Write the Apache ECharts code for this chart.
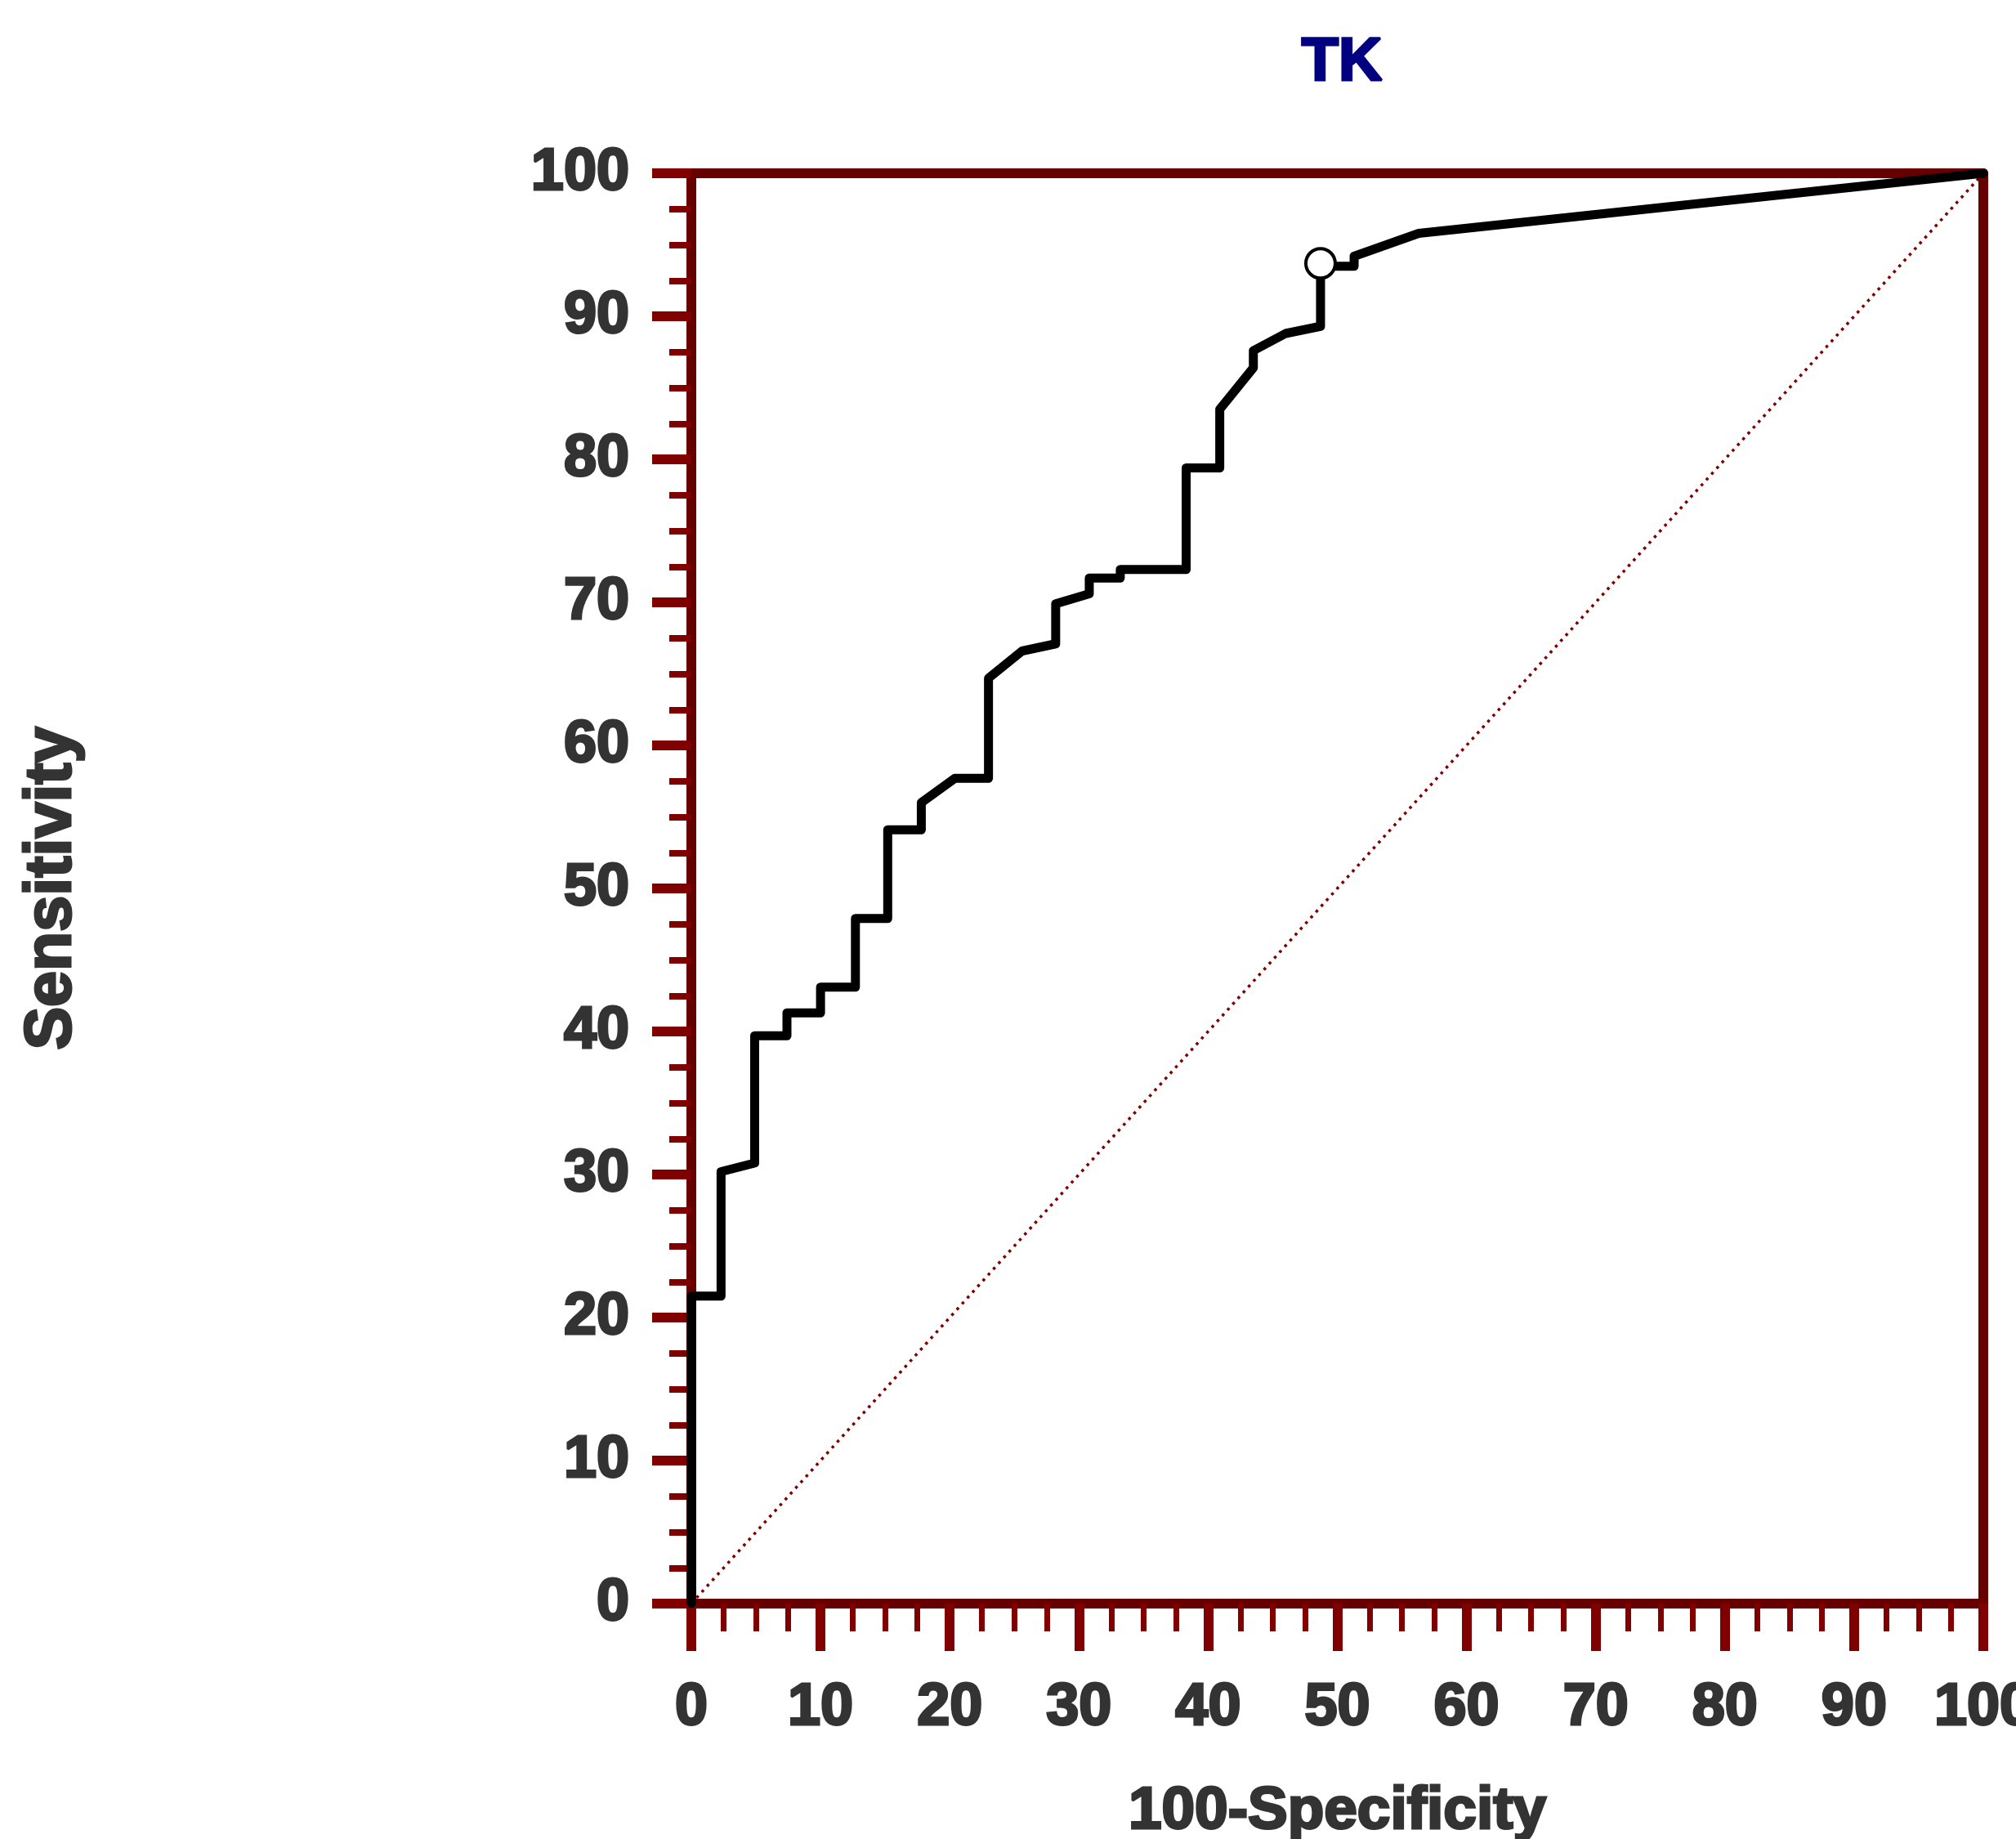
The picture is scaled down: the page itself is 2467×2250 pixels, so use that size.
<!DOCTYPE html>
<html>
<head>
<meta charset="utf-8">
<script src="https://cdn.jsdelivr.net/npm/echarts@6/dist/echarts.min.js"></script>
<style>
html,body{margin:0;padding:0;background:#fff;}
#chart{width:2467px;height:2250px;}
</style>
</head>
<body>
<div id="chart"></div>
<script>
// ROC curve: 100-Specificity (x) vs Sensitivity (y)
const rocX = [0, 0, 2.3, 2.3, 4.9, 4.9, 7.4, 7.4, 10.0, 10.0, 12.7, 12.7, 15.2, 15.2, 17.8, 17.8, 20.4, 23.0, 23.0, 25.6, 28.2, 28.2, 30.8, 30.8, 33.2, 33.2, 38.3, 38.3, 40.9, 40.9, 43.5, 43.5, 46.0, 48.7, 48.7, 51.3, 51.3, 56.3, 100];
const rocY = [0, 21.5, 21.5, 30.2, 30.8, 39.7, 39.7, 41.3, 41.3, 43.1, 43.1, 47.9, 47.9, 54.1, 54.1, 56.0, 57.7, 57.7, 64.7, 66.6, 67.1, 69.9, 70.6, 71.7, 71.7, 72.3, 72.3, 79.4, 79.4, 83.5, 86.4, 87.6, 88.8, 89.3, 93.5, 93.5, 94.2, 95.8, 100];
const criterionPoint = [48.7, 93.7];
const refLineX = [0, 100];
const refLineY = [0, 100];
const titleText = 'TK';
const xAxisName = '100-Specificity';
const yAxisName = 'Sensitivity';

const FONT = '"Liberation Sans", Arial, sans-serif';
const axisLineColor = '#660000';
const tickColor = '#800000';
const labelColor = '#333333';

const rocData = rocX.map((x, i) => [x, rocY[i]]);
const refData = refLineX.map((x, i) => [x, refLineY[i]]);

const boldText = (color, size) => ({
  color: color, fontSize: size || 72, fontWeight: 'bold', fontFamily: FONT,
  textBorderColor: color, textBorderWidth: 3
});

const chart = echarts.init(document.getElementById('chart'), null, {renderer: 'canvas'});
chart.setOption({
  backgroundColor: '#ffffff',
  animation: false,
  title: {
    text: titleText,
    left: 1637,
    top: 36,
    textAlign: 'center',
    textStyle: boldText('#000080', 74)
  },
  grid: {left: 846, right: 40, top: 212, bottom: 288, containLabel: false, outerBoundsMode: 'none'},
  xAxis: [{
    type: 'value', min: 0, max: 100, interval: 10, position: 'bottom',
    name: xAxisName, nameLocation: 'middle', nameGap: 218,
    nameTextStyle: boldText(labelColor, 73),
    axisLine: {show: true, onZero: false, lineStyle: {color: axisLineColor, width: 12}},
    axisTick: {show: true, inside: false, length: 58, lineStyle: {color: tickColor, width: 12}},
    minorTick: {show: true, splitNumber: 4, length: 34, lineStyle: {color: tickColor, width: 7}},
    axisLabel: Object.assign({show: true, margin: 92, showMinLabel: true, showMaxLabel: true, hideOverlap: false}, boldText(labelColor)),
    splitLine: {show: false}
  }, {
    type: 'value', min: 0, max: 100, position: 'top',
    axisLine: {show: true, onZero: false, lineStyle: {color: axisLineColor, width: 12}},
    axisTick: {show: false}, axisLabel: {show: false}, splitLine: {show: false}
  }],
  yAxis: [{
    type: 'value', min: 0, max: 100, interval: 10, position: 'left',
    name: yAxisName, nameLocation: 'middle', nameGap: 742, nameRotate: 90,
    nameTextStyle: boldText(labelColor, 79),
    axisLine: {show: true, onZero: false, lineStyle: {color: axisLineColor, width: 12}},
    axisTick: {show: true, inside: false, length: 48, lineStyle: {color: tickColor, width: 12}},
    minorTick: {show: true, splitNumber: 4, length: 27, lineStyle: {color: tickColor, width: 8}},
    axisLabel: Object.assign({show: true, margin: 76}, boldText(labelColor)),
    splitLine: {show: false}
  }, {
    type: 'value', min: 0, max: 100, position: 'right',
    axisLine: {show: true, onZero: false, lineStyle: {color: axisLineColor, width: 12}},
    axisTick: {show: false}, axisLabel: {show: false}, splitLine: {show: false}
  }],
  series: [{
    type: 'line', data: refData, xAxisIndex: 0, yAxisIndex: 0,
    symbol: 'none', silent: true, z: 2,
    lineStyle: {color: '#800000', width: 3.5, type: [3.5, 6]}
  }, {
    type: 'line', data: rocData, xAxisIndex: 0, yAxisIndex: 0,
    symbol: 'none', silent: true, z: 3,
    lineStyle: {color: '#000000', width: 11, join: 'round', cap: 'round'}
  }, {
    type: 'scatter', data: [criterionPoint], xAxisIndex: 0, yAxisIndex: 0,
    symbol: 'circle', symbolSize: 36, silent: true, z: 4,
    itemStyle: {color: '#ffffff', borderColor: '#000000', borderWidth: 4, opacity: 1}
  }]
});
</script>
</body>
</html>
